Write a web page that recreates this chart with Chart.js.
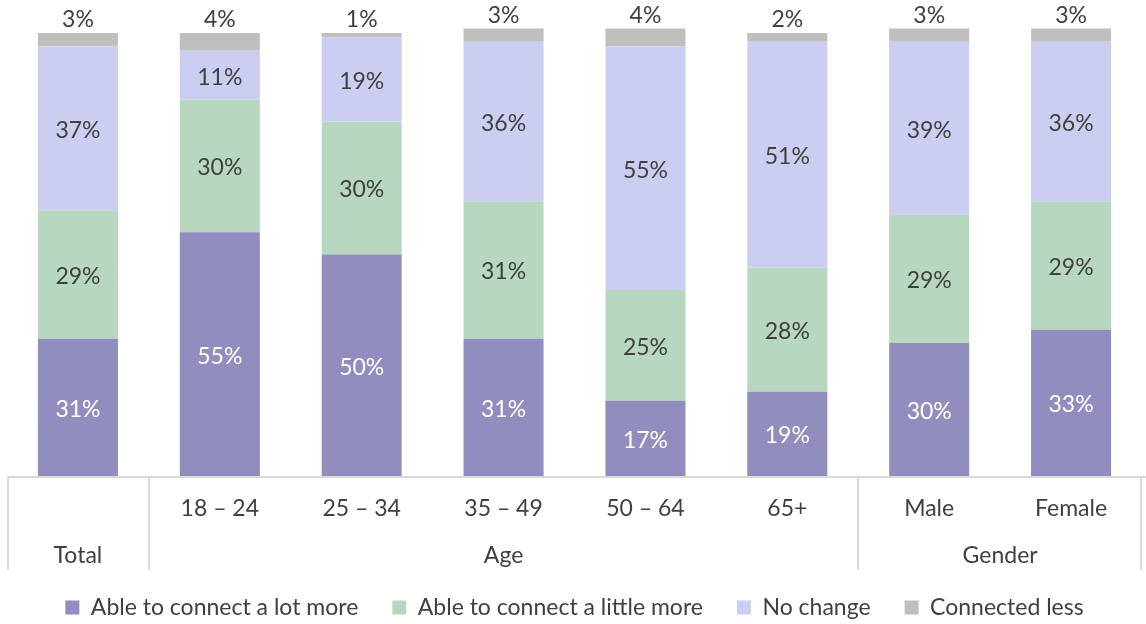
<!DOCTYPE html>
<html>
<head>
<meta charset="utf-8">
<script src="https://cdn.jsdelivr.net/npm/chart.js@4/dist/chart.umd.min.js"></script>
<style>
  html, body { margin: 0; padding: 0; background: #ffffff; }
  #wrap { width: 1146px; height: 624px; }
</style>
</head>
<body>
<div id="wrap"><canvas id="chart" width="1146" height="624"></canvas></div>
<script>
// Respondent breakdowns (first row of the axis) and their groups (second row)
const tickLabels = ['', '18 – 24', '25 – 34', '35 – 49', '50 – 64', '65+', 'Male', 'Female'];
const groupLabels = ['Total', 'Age', 'Gender'];
const groupRanges = [[0, 0], [1, 5], [6, 7]];

// Share of respondents per answer, in percent
const connectLotMore    = [31, 55, 50, 31, 17, 19, 30, 33];
const connectLittleMore = [29, 30, 30, 31, 25, 28, 29, 29];
const noChange          = [37, 11, 19, 36, 55, 51, 39, 36];
const connectedLess     = [3, 4, 1, 3, 4, 2, 3, 3];

const seriesNames = ['Able to connect a lot more', 'Able to connect a little more', 'No change', 'Connected less'];
const seriesColors = ['#918DBE', '#B7D7C0', '#CBCEF0', '#BFBFBF'];

const FONT = 'Lato, "Open Sans", sans-serif';
const FONT_SIZE = 23;
const TEXT = '#404040';
const LINE = '#D9D9D9';

// Value labels: centred inside the bars, the smallest segment sits on top of the bar
const valueLabels = {
  id: 'valueLabels',
  afterDatasetsDraw(chart) {
    const ctx = chart.ctx;
    ctx.save();
    ctx.font = FONT_SIZE + 'px ' + FONT;
    ctx.textAlign = 'center';
    ctx.textBaseline = 'middle';
    chart.data.datasets.forEach((ds, di) => {
      const meta = chart.getDatasetMeta(di);
      meta.data.forEach((bar, i) => {
        const txt = ds.data[i] + '%';
        if (di === 3) {
          ctx.fillStyle = TEXT;
          ctx.fillText(txt, bar.x, bar.y - 13);
        } else {
          ctx.fillStyle = di === 0 ? '#FFFFFF' : TEXT;
          ctx.fillText(txt, bar.x, (bar.y + bar.base) / 2 + 2);
        }
      });
    });
    ctx.restore();
  }
};

// Table-style category axis: frame lines and the group row
const axisTable = {
  id: 'axisTable',
  afterDraw(chart) {
    const ctx = chart.ctx;
    const x = chart.scales.x;
    const top = chart.chartArea.bottom + 1;
    const bottom = top + 93;
    const px = i => x.getPixelForValue(i);
    const edges = [x.left + 1, (px(0) + px(1)) / 2, (px(5) + px(6)) / 2, x.right - 1];
    ctx.save();
    ctx.strokeStyle = LINE;
    ctx.lineWidth = 2;
    ctx.beginPath();
    ctx.moveTo(x.left, top);
    ctx.lineTo(chart.width, top);
    edges.forEach(e => {
      ctx.moveTo(Math.round(e), top);
      ctx.lineTo(Math.round(e), bottom);
    });
    ctx.stroke();

    ctx.font = FONT_SIZE + 'px ' + FONT;
    ctx.fillStyle = TEXT;
    ctx.textAlign = 'center';
    ctx.textBaseline = 'middle';
    groupLabels.forEach((g, k) => {
      const [a, b] = groupRanges[k];
      ctx.fillText(g, (px(a) + px(b)) / 2, top + 79);
    });
    ctx.restore();
  }
};

new Chart(document.getElementById('chart'), {
  type: 'bar',
  data: {
    labels: tickLabels,
    datasets: [connectLotMore, connectLittleMore, noChange, connectedLess].map((d, k) => ({
      label: seriesNames[k],
      data: d,
      backgroundColor: seriesColors[k],
      borderWidth: 0,
      categoryPercentage: 1,
      barPercentage: 0.564
    }))
  },
  options: {
    responsive: false,
    devicePixelRatio: 1,
    animation: false,
    layout: { padding: { left: 7, right: 4, top: 0, bottom: -5 } },
    scales: {
      x: {
        stacked: true,
        grid: { display: false },
        border: { display: false },
        ticks: {
          color: TEXT,
          font: { family: FONT, size: FONT_SIZE },
          padding: 11,
          maxRotation: 0,
          autoSkip: false
        },
        afterFit(scale) { scale.height = 86; }
      },
      y: {
        stacked: true,
        display: false,
        min: 0,
        max: 107.45
      }
    },
    plugins: {
      legend: {
        position: 'bottom',
        labels: {
          color: TEXT,
          font: { family: FONT, size: FONT_SIZE },
          boxWidth: 14,
          boxHeight: 14,
          padding: 34
        }
      },
      tooltip: { enabled: false }
    }
  },
  plugins: [valueLabels, axisTable]
});
</script>
</body>
</html>
